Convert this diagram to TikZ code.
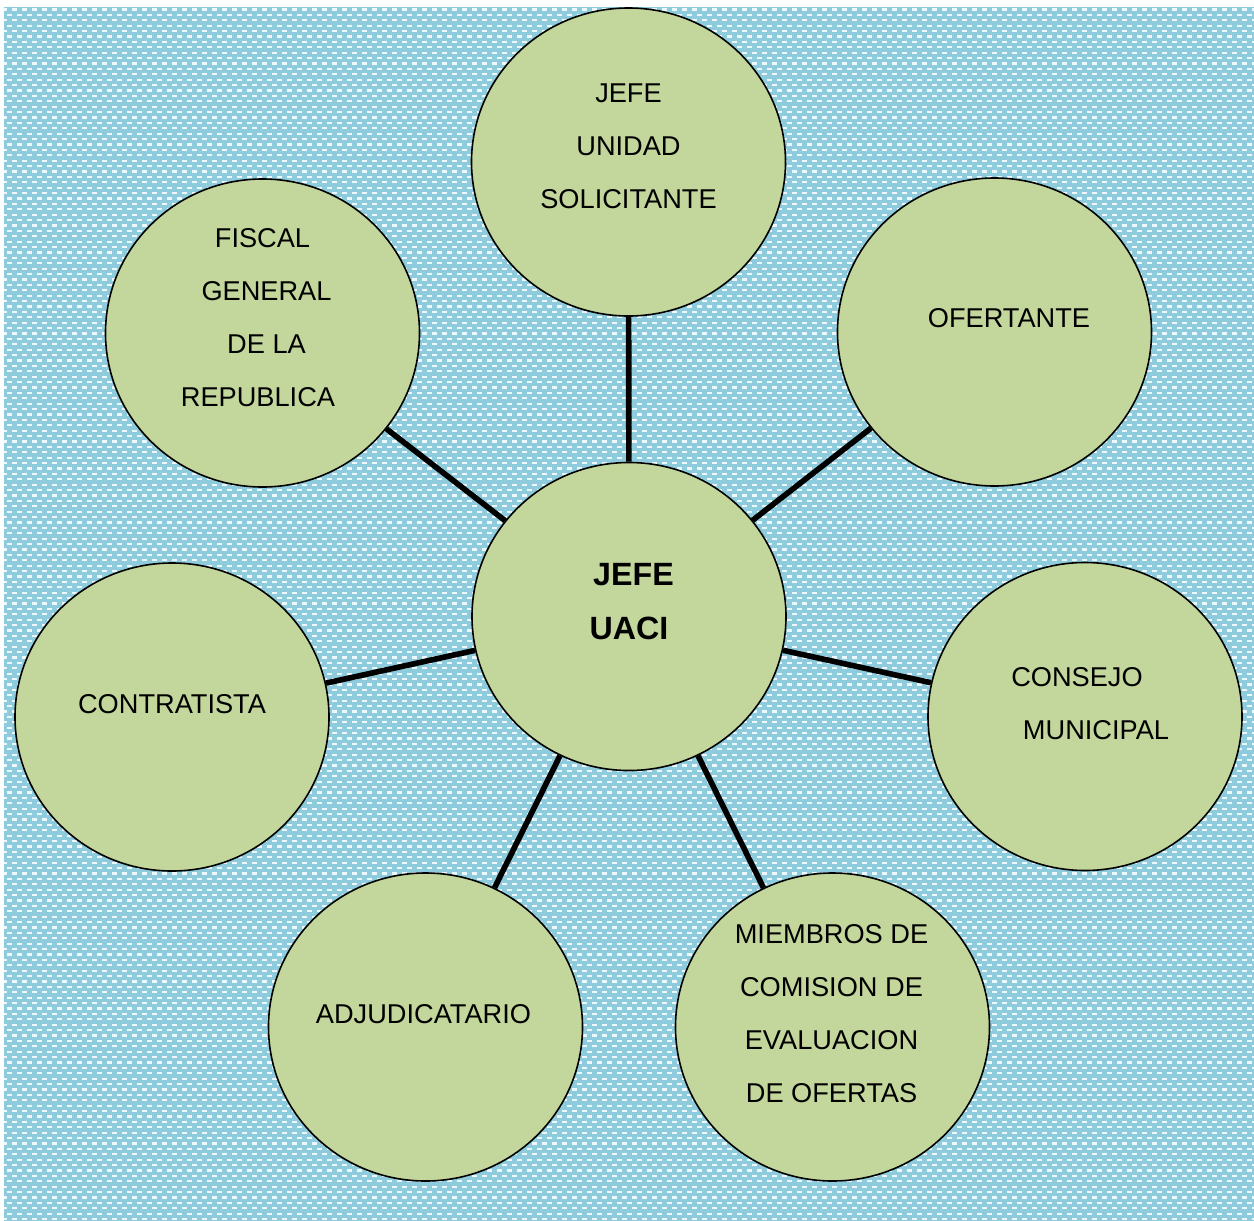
\documentclass[tikz,border=0pt]{standalone}
\usepackage{fontspec}
\setmainfont{Liberation Sans}
\usetikzlibrary{shapes.geometric}
\definecolor{bgblue}{RGB}{142,204,221}
\definecolor{dotwhite}{RGB}{236,248,252}
\definecolor{leaf}{RGB}{195,214,155}
\tikzset{
  actor/.style={ellipse, draw=black, line width=0.8pt, fill=leaf,
    minimum width=157pt, minimum height=154pt, inner sep=0pt},
  caption/.style={align=center, inner sep=0pt,
    font=\fontsize{13.6pt}{26.5pt}\selectfont},
  hubcaption/.style={align=center, inner sep=0pt,
    font=\bfseries\fontsize{16.1pt}{27pt}\selectfont},
  link/.style={line width=2.8pt, black}
}
\begin{document}
\begin{tikzpicture}[x=0.5pt, y=-0.5pt]
  \useasboundingbox (0,0) rectangle (1254,1221);
  \fill[white] (0,0) rectangle (1254,1221);
  % woven blue backdrop
  \fill[bgblue] (4,7) rectangle (1254,1221);
  \begin{scope}
    \clip (4,7) rectangle (1254,1221);
    \foreach \i in {0,...,225} {
      \pgfmathsetmacro{\yy}{9.5+\i*5.4}
      \pgfmathsetmacro{\ph}{mod(\i,2)*2.5}
      \draw[dotwhite, line width=1.1pt, dash pattern=on 2.5pt off 2.5pt,
            dash phase=\ph pt] (2,\yy) -- (1256,\yy);
    }
  \end{scope}

  % organisation bubbles
  \node[actor] (hub)      at (629,616.5) {};
  \node[actor] (top)      at (628.5,162) {};
  \node[actor] (fiscal)   at (262.5,333) {};
  \node[actor] (ofert)    at (994.5,332) {};
  \node[actor] (contr)    at (172,717)   {};
  \node[actor] (consejo)  at (1085,716.5) {};
  \node[actor] (adjud)    at (425.5,1027) {};
  \node[actor] (miembros) at (832.5,1027) {};

  % spokes from the hub
  \foreach \n in {top,fiscal,ofert,contr,consejo,adjud,miembros}
    \draw[link] (hub) -- (\n);

  % captions
  \node[hubcaption] (thub) at (629,602) {\hspace*{4.5pt}JEFE\\UACI};
  \node[caption] (ttop) at (628.5,146) {JEFE\\UNIDAD\\SOLICITANTE};
  \node[caption] (tfiscal) at (258,318)
    {\hspace*{4.5pt}FISCAL\\\hspace*{8.5pt}GENERAL\\\hspace*{8.5pt}DE LA\\REPUBLICA};
  \node[caption] (tofert) at (1009,318) {OFERTANTE};
  \node[caption] (tconsejo) at (1077,704) {CONSEJO\\\hspace*{19pt}MUNICIPAL};
  \node[caption] (tcontr) at (172,704) {CONTRATISTA};
  \node[caption] (tadjud) at (423.5,1014) {ADJUDICATARIO};
  \node[caption] (tmiembros) at (831.5,1013.5)
    {MIEMBROS DE\\COMISION DE\\EVALUACION\\DE OFERTAS};
\end{tikzpicture}
\end{document}
